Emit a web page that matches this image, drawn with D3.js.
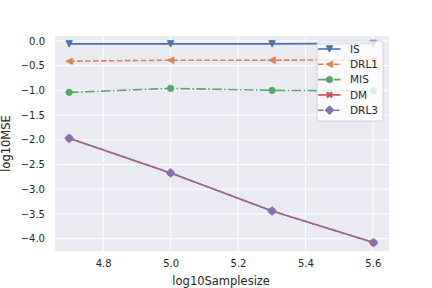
<!DOCTYPE html>
<html>
<head>
<meta charset="utf-8">
<script src="https://cdn.jsdelivr.net/npm/d3@7"></script>
<style>
  body { margin: 0; background: #fff; }
  svg text { font-family: "DejaVu Sans", sans-serif; fill: #262626; }
</style>
</head>
<body>
<svg id="chart" width="432" height="288"></svg>
<script>
// log10 of the sample sizes
var sampleSizes = [4.69897, 5.0, 5.30103, 5.60206]

var isVals   = [-0.06, -0.06, -0.06, -0.05]
var drl1Vals = [-0.41, -0.39, -0.39, -0.38]
var misVals  = [-1.04, -0.96, -1.00, -1.01]
var dmVals   = [-1.97, -2.67, -3.44, -4.08]
var drl3Vals = [-1.97, -2.67, -3.44, -4.08]

var xTicks = [4.8, 5.0, 5.2, 5.4, 5.6]
var yTicks = [0.0, -0.5, -1.0, -1.5, -2.0, -2.5, -3.0, -3.5, -4.0]

var series = [
  {name: "IS",   vals: isVals,   color: "#4C72B0", dash: null,             marker: "tri-down"},
  {name: "DRL1", vals: drl1Vals, color: "#DD8452", dash: "5.55,2.4",       marker: "tri-left"},
  {name: "MIS",  vals: misVals,  color: "#55A868", dash: "9.6,2.4,1.5,2.4", marker: "circle"},
  {name: "DM",   vals: dmVals,   color: "#C44E52", dash: null,             marker: "x"},
  {name: "DRL3", vals: drl3Vals, color: "#8172B3", dash: "5.55,2.4",       marker: "diamond"}
]

var svg = d3.select("#chart"),
    margin = {top: 36, right: 43, bottom: 37, left: 55},
    width  = +svg.attr("width")  - margin.left - margin.right,
    height = +svg.attr("height") - margin.top  - margin.bottom;

var x = d3.scaleLinear().domain([4.657, 5.648]).range([0, width]);
var y = d3.scaleLinear().domain([-4.25, 0.1]).range([height, 0]);

var g = svg.append("g")
  .attr("transform", "translate(" + margin.left + "," + margin.top + ")");

g.append("rect")
  .attr("width", width)
  .attr("height", height)
  .attr("fill", "#EAEAF2");

// grid
g.append("g").selectAll("line")
  .data(xTicks).enter().append("line")
    .attr("x1", function(d) { return x(d); })
    .attr("x2", function(d) { return x(d); })
    .attr("y1", 0).attr("y2", height)
    .attr("stroke", "#fff").attr("stroke-width", 1);

g.append("g").selectAll("line")
  .data(yTicks).enter().append("line")
    .attr("y1", function(d) { return y(d); })
    .attr("y2", function(d) { return y(d); })
    .attr("x1", 0).attr("x2", width)
    .attr("stroke", "#fff").attr("stroke-width", 1);

// axes, text only
var xAxis = d3.axisBottom(x).tickValues(xTicks).tickSize(0).tickPadding(9)
  .tickFormat(d3.format(".1f"));
var yAxis = d3.axisLeft(y).tickValues(yTicks).tickSize(0).tickPadding(10)
  .tickFormat(function(d) { return d3.format(".1f")(d).replace("-", "\u2212"); });

var gx = g.append("g")
  .attr("transform", "translate(0," + height + ")")
  .call(xAxis);
var gy = g.append("g").call(yAxis);

[gx, gy].forEach(function(a) {
  a.select(".domain").remove();
  a.selectAll("text").attr("font-size", 10).attr("fill", "#262626")
    .attr("font-family", "DejaVu Sans, sans-serif");
});

svg.append("text")
  .attr("x", margin.left + x(5.15))
  .attr("y", 285)
  .attr("text-anchor", "middle")
  .attr("font-size", 11.5)
  .text("log10Samplesize");

svg.append("text")
  .attr("transform", "translate(10," + (margin.top + height / 2) + ") rotate(-90)")
  .attr("text-anchor", "middle")
  .attr("font-size", 11.5)
  .text("log10MSE");

// markers
function markerPath(type) {
  var s = 3.2;
  if (type == "tri-down") return "M0," + s + "L" + (-s) + "," + (-s) + "L" + s + "," + (-s) + "Z";
  if (type == "tri-left") return "M" + (-s) + ",0L" + s + "," + (-s) + "L" + s + "," + s + "Z";
  if (type == "diamond") { var r = 4.4; return "M0," + (-r) + "L" + r + ",0L0," + r + "L" + (-r) + ",0Z"; }
  if (type == "x") {
    var a = 2.9, b = 1.1;
    return "M" + (-a) + "," + (-a + b) + "L" + (-b) + ",0L" + (-a) + "," + (a - b) +
      "L" + (-a + b) + "," + a + "L0," + b + "L" + (a - b) + "," + a +
      "L" + a + "," + (a - b) + "L" + b + ",0L" + a + "," + (-a + b) +
      "L" + (a - b) + "," + (-a) + "L0," + (-b) + "L" + (-a + b) + "," + (-a) + "Z";
  }
  return d3.symbol().type(d3.symbolCircle).size(Math.PI * 10)();
}

var line = d3.line()
  .x(function(d, i) { return x(sampleSizes[i]); })
  .y(function(d) { return y(d); });

series.forEach(function(s) {
  var sg = g.append("g").attr("class", "series");
  sg.append("path")
    .datum(s.vals)
    .attr("d", line)
    .attr("fill", "none")
    .attr("stroke", s.color)
    .attr("stroke-width", 1.6)
    .attr("stroke-dasharray", s.dash);
  sg.selectAll(".pt")
    .data(s.vals).enter().append("path")
      .attr("class", "pt")
      .attr("transform", function(d, i) { return "translate(" + x(sampleSizes[i]) + "," + y(d) + ")"; })
      .attr("d", markerPath(s.marker))
      .attr("fill", s.color)
      .attr("stroke", s.color)
      .attr("stroke-width", 1);
});

// legend
var leg = svg.append("g").attr("transform", "translate(317,41)");
leg.append("rect")
  .attr("width", 66).attr("height", 80)
  .attr("rx", 2.5)
  .attr("fill", "#fff").attr("fill-opacity", 0.8)
  .attr("stroke", "#ccc").attr("stroke-width", 0.8);

series.forEach(function(s, i) {
  var ly = 8 + i * 15.3;
  var item = leg.append("g").attr("transform", "translate(0," + ly + ")");
  item.append("line")
    .attr("x1", 1).attr("x2", 23.5)
    .attr("stroke", s.color).attr("stroke-width", 1.6)
    .attr("stroke-dasharray", s.dash);
  item.append("path")
    .attr("transform", "translate(12.5,0)")
    .attr("d", markerPath(s.marker))
    .attr("fill", s.color).attr("stroke", s.color).attr("stroke-width", 1);
  item.append("text")
    .attr("x", 33).attr("y", 3.8)
    .attr("font-size", 10.5)
    .text(s.name);
});
</script>
</body>
</html>
